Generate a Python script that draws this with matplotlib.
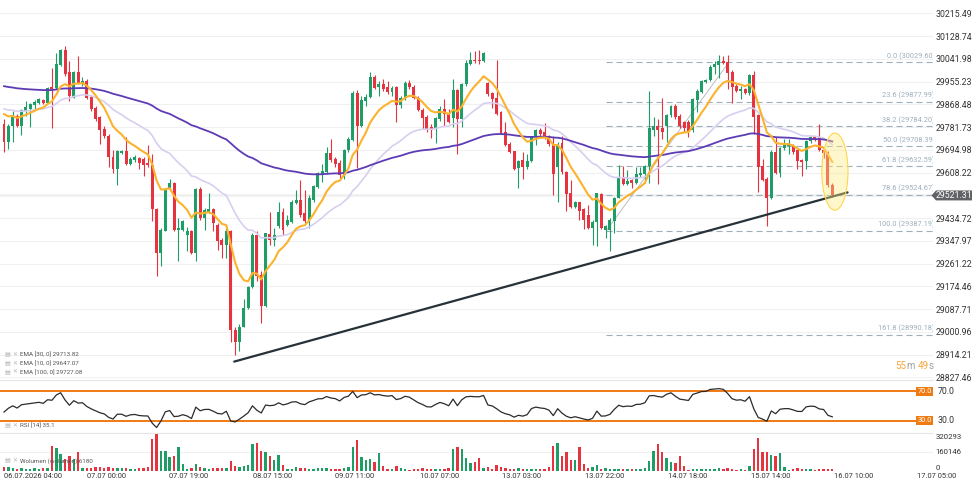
import matplotlib
matplotlib.use("Agg")
import matplotlib.pyplot as plt
import numpy as np
from matplotlib.patches import Ellipse, Polygon
import matplotlib.transforms as mtransforms

plt.rcParams['font.family'] = ['Roboto', 'DejaVu Sans']

# hourly candles, 06.07 - 15.07
opens = [29793, 29724, 29785, 29825, 29787, 29844, 29850, 29867, 29875, 29884,
         29875, 29935, 29932, 30020, 30075, 29991, 29894, 29991, 29951, 29957,
         29898, 29854, 29819, 29775, 29749, 29667, 29623, 29684, 29689, 29642,
         29658, 29665, 29661, 29646, 29638, 29469, 29302, 29386, 29545, 29570,
         29390, 29390, 29371, 29386, 29302, 29545, 29434, 29459, 29469, 29409,
         29352, 29331, 29386, 29008, 28961, 29020, 29091, 29172, 29369, 29217,
         29100, 29374, 29352, 29403, 29459, 29409, 29421, 29491, 29503, 29453,
         29428, 29503, 29554, 29604, 29611, 29684, 29661, 29646, 29598, 29693,
         29734, 29911, 29785, 29882, 29898, 29974, 29936, 29945, 29936, 29916,
         29936, 29865, 29891, 29951, 29936, 29894, 29848, 29819, 29781, 29775,
         29812, 29850, 29831, 29815, 29923, 29812, 29945, 30024, 30039, 30037,
         30033, 29949, 29911, 29891, 29838, 29762, 29718, 29689, 29626, 29655,
         29630, 29651, 29747, 29772, 29762, 29747, 29714, 29630, 29722, 29611,
         29529, 29478, 29495, 29469, 29447, 29399, 29421, 29525, 29390, 29390,
         29424, 29512, 29592, 29564, 29579, 29570, 29601, 29604, 29633, 29772,
         29785, 29777, 29785, 29828, 29863, 29825, 29800, 29800, 29772, 29885,
         29916, 29954, 29961, 30012, 30020, 30033, 30029, 29991, 29938, 29920,
         29928, 29911, 29979, 29828, 29633, 29583, 29512, 29686, 29608, 29701,
         29711, 29711, 29693, 29655, 29651, 29727, 29743, 29743, 29693, 29686,
         29563]
highs = [29812, 29793, 29844, 29831, 29850, 29882, 29875, 29884, 29891, 29888,
         29936, 30008, 30065, 30080, 30092, 30033, 29995, 30052, 29974, 29966,
         29903, 29863, 29825, 29787, 29756, 29693, 29693, 29693, 29743, 29667,
         29674, 29667, 29667, 29714, 29680, 29472, 29396, 29550, 29583, 29573,
         29434, 29428, 29402, 29390, 29548, 29554, 29472, 29532, 29474, 29415,
         29361, 29409, 29390, 29018, 29031, 29125, 29176, 29377, 29384, 29232,
         29380, 29459, 29399, 29497, 29472, 29447, 29503, 29541, 29579, 29541,
         29522, 29560, 29611, 29642, 29705, 29737, 29667, 29655, 29699, 29743,
         29920, 29923, 29901, 29907, 29991, 29979, 29957, 29964, 29957, 29938,
         29938, 29901, 29957, 29961, 29941, 29901, 29856, 29828, 29793, 29822,
         29863, 29888, 29850, 29966, 29926, 29951, 30039, 30067, 30071, 30075,
         30067, 29954, 29916, 30039, 29844, 29802, 29724, 29691, 29655, 29686,
         29680, 29749, 29775, 29777, 29797, 29752, 29747, 29724, 29749, 29613,
         29579, 29500, 29497, 29474, 29485, 29428, 29532, 29532, 29409, 29434,
         29516, 29636, 29633, 29617, 29585, 29630, 29630, 29638, 29920, 29819,
         29812, 29891, 29831, 29865, 29869, 29831, 29806, 29810, 29894, 29926,
         29961, 29966, 30017, 30033, 30058, 30054, 30058, 29999, 29945, 29938,
         29932, 29983, 29995, 29831, 29661, 29592, 29693, 29743, 29705, 29737,
         29737, 29718, 29696, 29661, 29734, 29747, 29747, 29793, 29699, 29689,
         29570]
lows = [29686, 29699, 29724, 29781, 29753, 29825, 29781, 29850, 29869, 29869,
        29873, 29777, 29926, 30014, 29976, 29882, 29891, 29945, 29938, 29888,
        29844, 29806, 29718, 29739, 29630, 29608, 29560, 29680, 29638, 29638,
        29648, 29623, 29595, 29630, 29424, 29213, 29251, 29384, 29541, 29386,
        29273, 29384, 29308, 29298, 29270, 29428, 29390, 29453, 29384, 29314,
        29283, 29283, 28961, 28915, 28930, 29018, 29087, 29167, 29194, 29037,
        29096, 29333, 29327, 29396, 29371, 29403, 29415, 29487, 29440, 29415,
        29396, 29497, 29550, 29573, 29604, 29648, 29630, 29579, 29585, 29686,
        29730, 29626, 29781, 29863, 29894, 29926, 29901, 29920, 29907, 29901,
        29802, 29856, 29885, 29928, 29888, 29843, 29775, 29764, 29739, 29722,
        29806, 29787, 29797, 29781, 29680, 29781, 29938, 30017, 30027, 30024,
        30029, 29901, 29856, 29828, 29756, 29711, 29684, 29617, 29548, 29585,
        29623, 29648, 29714, 29749, 29737, 29711, 29522, 29495, 29604, 29462,
        29472, 29472, 29428, 29394, 29394, 29331, 29327, 29394, 29358, 29308,
        29377, 29510, 29560, 29560, 29548, 29566, 29592, 29570, 29570, 29749,
        29566, 29737, 29724, 29822, 29812, 29777, 29762, 29743, 29764, 29838,
        29913, 29951, 29957, 29983, 29970, 30024, 29928, 29873, 29916, 29888,
        29907, 29903, 29756, 29535, 29575, 29403, 29507, 29604, 29592, 29696,
        29680, 29680, 29623, 29595, 29623, 29722, 29730, 29689, 29664, 29554,
        29515]
closes = [29724, 29785, 29828, 29787, 29846, 29857, 29869, 29878, 29888, 29875,
          29932, 29926, 30024, 30075, 29983, 29901, 29991, 29951, 29957, 29894,
          29850, 29812, 29772, 29747, 29667, 29623, 29689, 29689, 29642, 29661,
          29666, 29645, 29638, 29636, 29469, 29302, 29390, 29545, 29570, 29390,
          29396, 29424, 29386, 29302, 29545, 29434, 29466, 29469, 29415, 29348,
          29331, 29386, 29008, 28961, 29020, 29091, 29172, 29371, 29213, 29100,
          29377, 29352, 29371, 29459, 29390, 29428, 29495, 29503, 29447, 29424,
          29510, 29556, 29608, 29613, 29684, 29655, 29642, 29598, 29696, 29737,
          29911, 29785, 29885, 29898, 29974, 29932, 29945, 29926, 29916, 29932,
          29865, 29891, 29951, 29936, 29894, 29848, 29816, 29775, 29772, 29815,
          29850, 29831, 29800, 29923, 29812, 29945, 30027, 30039, 30033, 30033,
          30065, 29907, 29888, 29831, 29759, 29714, 29686, 29623, 29651, 29630,
          29651, 29747, 29772, 29756, 29747, 29718, 29604, 29714, 29611, 29525,
          29478, 29495, 29462, 29428, 29399, 29421, 29529, 29399, 29403, 29428,
          29512, 29592, 29564, 29575, 29570, 29604, 29608, 29633, 29777, 29785,
          29772, 29764, 29828, 29863, 29822, 29785, 29777, 29768, 29888, 29920,
          29957, 29961, 30012, 30023, 30033, 30027, 29989, 29936, 29920, 29926,
          29911, 29979, 29819, 29630, 29579, 29512, 29686, 29608, 29701, 29714,
          29714, 29686, 29651, 29648, 29730, 29743, 29737, 29693, 29682, 29560,
          29521.31]
volumes = [34300, 34300, 28600, 20000, 22800, 17100, 20000, 22800, 20000, 22800, 28600,
           214100, 199900, 142800, 105600, 128500, 99900, 162700,
           28600, 28600, 28600, 34300, 37100, 28600, 31400, 28600, 28600, 28600, 28600, 20000, 20000, 28600, 28600, 37100,
           271200, 314100, 171300, 171300, 122800, 128500, 205600, 57100,
           20000, 28600, 57100, 34300, 28600, 20000, 25700, 28600, 28600, 28600, 85700, 42800, 34300, 42800, 51400,
           228400, 242700, 171300, 165600, 128500, 94200, 134200, 51400,
           14300, 14300, 37100, 28600, 28600, 20000, 14300, 28600, 22800, 28600, 20000, 14300, 20000, 28600, 37100,
           208400, 262700, 122800, 94200, 99900, 77100, 151300,
           42800, 20000, 14300, 42800, 28600, 20000, 5700, 20000, 20000, 28600, 20000, 20000, 20000, 14300, 20000, 28600,
           185600, 208400, 185600, 114200, 71400, 77100, 114200,
           28600, 37100, 20000, 51400, 37100, 28600, 20000, 20000, 28600, 20000, 20000, 20000, 14300, 14300, 20000, 37100,
           214100, 237000, 128500, 162700, 94200, 94200, 208400, 57100,
           28600, 37100, 48500, 20000, 28600, 20000, 20000, 14300, 20000, 20000, 14300, 14300, 14300, 22800,
           85700, 171300, 228400, 162700, 114200, 77100, 71400, 128500, 42800,
           8600, 20000, 20000, 20000, 20000, 14300, 20000, 28600, 20000, 28600, 20000, 8600, 20000, 8600, 42800,
           191300, 279800, 162700, 162700, 134200, 128500, 151300,
           37100, 8600, 20000, 28600, 20000, 20000, 14300, 8600, 20000, 20000, 20000, 20000]

# indicator starting values read at the left edge
ema_seeds = {10: 29855, 30: 29860, 100: 29942}
rsi_seed_gain, rsi_seed_loss = 20.0, 28.0

price_ticks = [30215.49, 30128.74, 30041.98, 29955.23, 29868.48, 29781.73, 29694.98,
               29608.22, 29521.31, 29434.72, 29347.97, 29261.22, 29174.46, 29087.71,
               29000.96, 28914.21, 28827.46]
last_price = 29521.31

fib_levels = [0.0, 23.6, 38.2, 50.0, 61.8, 78.6, 100.0, 161.8]
fib_prices = [30029.60, 29877.99, 29784.20, 29708.39, 29632.59, 29524.67, 29387.19, 28990.18]
fib_start = 138.2
fib_diag_x = [138.2, 166.3]
fib_diag_y = [29387.19, 30029.60]

trend_x = [52.8, 193.5]
trend_y = [28888, 29533]

x_labels = ['06.07.2026 04:00', '07.07 00:00', '07.07 19:00', '08.07 15:00', '09.07 11:00',
            '10.07 07:00', '13.07 03:00', '13.07 22:00', '14.07 18:00', '15.07 14:00',
            '16.07 10:00', '17.07 05:00']
x_label_pos = [0.0, 23.6, 42.4, 61.5, 80.5, 99.8, 118.8, 137.8, 156.9, 175.9, 195.0, 214.0]

vol_ticks = [0, 160146, 320293]

GREEN = '#1f9d66'
RED = '#e5343f'


def ema(values, n, seed):
    a = 2.0 / (n + 1)
    out = []
    e = seed
    for v in values:
        e = e + a * (v - e)
        out.append(e)
    return np.array(out)


def rsi(values, g0, l0, n=14):
    ag, al = g0, l0
    out = [100 - 100 / (1 + ag / al)]
    for i in range(1, len(values)):
        d = values[i] - values[i - 1]
        ag = (ag * (n - 1) + max(d, 0)) / n
        al = (al * (n - 1) + max(-d, 0)) / n
        out.append(100 - 100 / (1 + ag / al))
    return np.array(out)


o = np.array(opens, float)
h = np.array(highs, float)
l = np.array(lows, float)
c = np.array(closes, float)
v = np.array(volumes, float)
x = np.arange(len(c))
up = c >= o
cols = np.where(up, GREEN, RED)

W, H = 977, 492
fig = plt.figure(figsize=(W / 100, H / 100), dpi=100, facecolor='white')
right = 933 / W
ax = fig.add_axes([0, 1 - 380 / H, right, 380 / H])
ax_rsi = fig.add_axes([0, 1 - 433 / H, right, 53 / H], sharex=ax)
ax_vol = fig.add_axes([0, 1 - 471 / H, right, 38 / H], sharex=ax)

xlim = (-0.92, 213.1)
for a in (ax, ax_rsi, ax_vol):
    a.set_facecolor('white')
    for s in a.spines.values():
        s.set_visible(False)
    a.tick_params(axis='x', which='both', length=0, labelbottom=False)
ax.set_xlim(*xlim)

# ---- main price panel
ax.set_ylim(28817.9, 30266.2)
ax.set_yticks(price_ticks)
ax.set_yticklabels([f'{p:.2f}' for p in price_ticks])
ax.yaxis.tick_right()
ax.tick_params(axis='y', length=0, pad=2, labelsize=6.3, labelcolor='#333333')
ax.grid(axis='y', color='#f0f0f0', lw=0.8)
ax.grid(axis='x', visible=False)

ax.axhline(last_price, color='#c4c4c4', lw=1.0, zorder=1)

ax.vlines(x, l, h, colors=cols, lw=0.8, zorder=3)
ax.bar(x, c - o, bottom=o, width=0.68, color=cols, zorder=4)

ax.plot(x, ema(c, 30, ema_seeds[30]), color='#d8cef0', lw=1.2, zorder=5)
ax.plot(x, ema(c, 100, ema_seeds[100]), color='#5d3bb5', lw=1.3, zorder=5)
ax.plot(x, ema(c, 10, ema_seeds[10]), color='#fbb22c', lw=1.5, zorder=6)

# fibonacci retracement
ax.plot(fib_diag_x, fib_diag_y, color='#b9bec4', lw=0.7, zorder=2)
for lev, p in zip(fib_levels, fib_prices):
    ax.hlines(p, fib_start, xlim[1], colors='#9eb0bc', lw=0.8,
              linestyles=(0, (5.5, 3.5)), zorder=2)
    ax.text(xlim[1] + 0.45, p + 8, f'{lev:.1f} ({p:.2f})', ha='right', va='bottom',
            fontsize=5.3, color='#9eb0bc', clip_on=True, zorder=2)

ax.plot(trend_x, trend_y, color='#263238', lw=1.6, solid_capstyle='round', zorder=7)

ax.add_patch(Ellipse((190.6, 29612), 6.0, 294, facecolor='#ffeb80', alpha=0.4,
                     edgecolor='none', zorder=8))
ax.add_patch(Ellipse((190.6, 29612), 6.0, 294, facecolor='none',
                     edgecolor='#ffd54f', lw=0.8, zorder=8))

# current price tag
bt = mtransforms.blended_transform_factory(fig.transFigure, ax.transData)
tag = Polygon([(931.5 / W, last_price), (936 / W, last_price + 19), (972 / W, last_price + 19),
               (972 / W, last_price - 19), (936 / W, last_price - 19)],
              closed=True, transform=bt, facecolor='#606266', edgecolor='none',
              clip_on=False, zorder=10)
ax.add_patch(tag)
ax.text(954 / W, last_price, f'{last_price:.2f}', transform=bt, ha='center', va='center',
        fontsize=6.3, color='white', zorder=11)

# indicator legends
leg = [('EMA [30, 0] 29713.82', 355), ('EMA [10, 0] 29647.07', 363.6), ('EMA [100, 0] 29727.08', 372.2)]
for txt, yp in leg:
    fig.text(4 / W, 1 - yp / H, '▤', fontsize=4.5, color='#b5b5b5', va='center', ha='left',
             family=['DejaVu Sans'])
    fig.text(12.5 / W, 1 - yp / H, '✕', fontsize=4.2, color='#b5b5b5', va='center', ha='left',
             family=['DejaVu Sans'])
    fig.text(19.5 / W, 1 - yp / H, txt, fontsize=4.5, color='#555555', va='center', ha='left')

# countdown
for txt, xp, col in [('55', 895, '#f7a738'), ('m', 906, '#a0a0a0'),
                     ('49', 917.5, '#f7a738'), ('s', 928.5, '#a0a0a0')]:
    fig.text(xp / W, 1 - 366 / H, txt, fontsize=7, color=col, va='center', ha='left')

# ---- RSI panel
r = rsi(c, rsi_seed_gain, rsi_seed_loss)
ax_rsi.set_ylim(12.9, 85.7)
ax_rsi.set_yticks([])
ax_rsi.axhline(70, color='#f07b12', lw=1.4, zorder=2)
ax_rsi.axhline(30, color='#f07b12', lw=1.4, zorder=2)
ax_rsi.plot(x, r, color='#2b2b2b', lw=0.9, zorder=3)
fig.add_artist(plt.Line2D([0, right], [1 - 380 / H, 1 - 380 / H], color='#e6e6e6', lw=0.8))
rt = mtransforms.blended_transform_factory(ax_rsi.transAxes, ax_rsi.transData)
for lvl in (70, 30):
    ax_rsi.text(0.9985, lvl, f'{lvl:.1f}', transform=rt, ha='right', va='center', fontsize=5.3,
                color='white', bbox=dict(boxstyle='square,pad=0.18', fc='#f07b12', ec='none'), zorder=5)
    ax_rsi.text(1.005, lvl, f'{lvl:.1f}', transform=rt, ha='left', va='center', fontsize=6.3,
                color='#333333', clip_on=False)
fig.text(4 / W, 1 - 426 / H, '▤', fontsize=4.5, color='#b5b5b5', va='center', family=['DejaVu Sans'])
fig.text(12.5 / W, 1 - 426 / H, '✕', fontsize=4.2, color='#b5b5b5', va='center', family=['DejaVu Sans'])
fig.text(19.5 / W, 1 - 426 / H, 'RSI [14] 35.1', fontsize=4.5, color='#555555', va='center')

# ---- volume panel
ax_vol.set_ylim(0, 325500)
ax_vol.bar(x, v, width=0.55, color=cols, zorder=3)
ax_vol.set_yticks([])
ax_vol.axhline(vol_ticks[1], color='#f0f0f0', lw=0.8, zorder=1)
fig.add_artist(plt.Line2D([0, right], [1 - 433 / H, 1 - 433 / H], color='#e6e6e6', lw=0.8))
vt = mtransforms.blended_transform_factory(ax_vol.transAxes, ax_vol.transData)
for val, va in zip(vol_ticks, ['bottom', 'center', 'top']):
    ax_vol.text(1.003, val, str(val), transform=vt, ha='left', va=va, fontsize=5.6,
                color='#333333', clip_on=False)
fig.text(4 / W, 1 - 461 / H, '▤', fontsize=4.5, color='#b5b5b5', va='center', family=['DejaVu Sans'])
fig.text(12.5 / W, 1 - 461 / H, '✕', fontsize=4.2, color='#b5b5b5', va='center', family=['DejaVu Sans'])
fig.text(19.5 / W, 1 - 461 / H, 'Wolumen (wolumen) 6180', fontsize=4.5, color='#555555', va='center')

# x labels
xt = mtransforms.blended_transform_factory(ax_vol.transData, fig.transFigure)
for i, (lab, pos) in enumerate(zip(x_labels, x_label_pos)):
    ax_vol.text(pos, 1 - 476 / H, lab, transform=xt, ha='left' if i == 0 else 'center',
                va='center', fontsize=5.4, color='#333333', clip_on=False)

fig.savefig('out.png', dpi=100, facecolor='white')
